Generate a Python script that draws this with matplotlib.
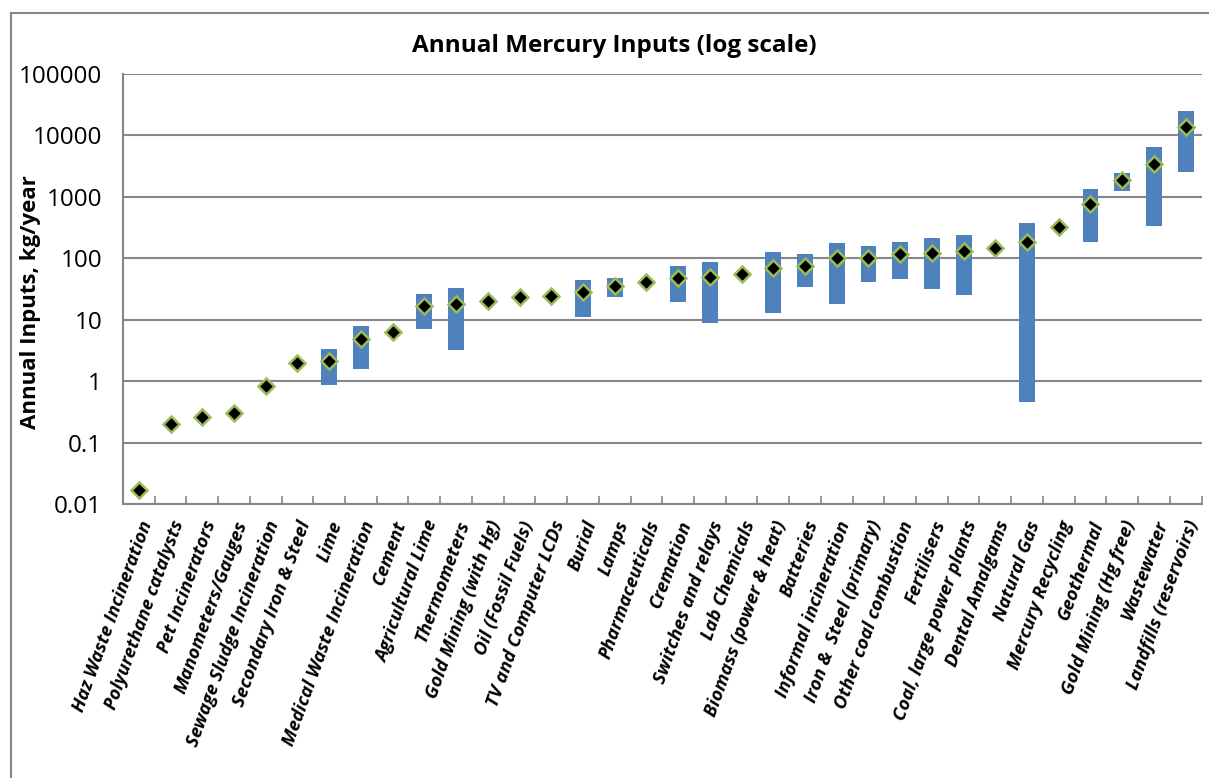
import numpy as np
import matplotlib.pyplot as plt
import matplotlib.transforms as mtransforms
from matplotlib.lines import Line2D

categories = [
    "Haz Waste Incineration", "Polyurethane catalysts", "Pet Incinerators",
    "Manometers/Gauges", "Sewage Sludge Incineration", "Secondary Iron & Steel",
    "Lime", "Medical Waste Incineration", "Cement", "Agricultural Lime",
    "Thermometers", "Gold Mining (with Hg)", "Oil (Fossil Fuels)",
    "TV and Computer LCDs", "Burial", "Lamps", "Pharmaceuticals", "Cremation",
    "Switches and relays", "Lab Chemicals", "Biomass (power & heat)", "Batteries",
    "Informal incineration", "Iron &  Steel (primary)", "Other coal combustion",
    "Fertilisers", "Coal, large power plants", "Dental Amalgams", "Natural Gas",
    "Mercury Recycling", "Geothermal", "Gold Mining (Hg free)", "Wastewater",
    "Landfills (reservoirs)",
]

# best estimate (diamonds)
best = [0.017, 0.20, 0.26, 0.30, 0.83, 2.0, 2.14, 4.9, 6.4, 17.0,
        18.1, 20.3, 23.6, 24.5, 28, 36, 40.7, 48,
        49, 55, 70, 76,
        100, 100, 118, 122, 133, 149, 187,
        319, 775, 1905, 3470, 13840]

# low / high of range (blue bars), None where there is no range
low = [None, None, None, None, None, None, 0.86, 1.61, None, 7.1,
       3.27, None, None, None, 11.1, 23.8, None, 19.3,
       8.9, None, 12.8, 33.8,
       18.1, 40.7, 45.6, 31.8, 25.4, None, 0.468,
       None, 185, 1247, 336, 2500]
high = [None, None, None, None, None, None, 3.36, 7.95, None, 26.7,
        32.5, None, None, None, 44.5, 48, None, 76,
        88, None, 127, 119,
        180, 161, 187, 215, 243, None, 371,
        None, 1344, 2474, 6550, 24900]

plt.rcParams['font.family'] = ['Open Sans', 'DejaVu Sans']

fig = plt.figure(figsize=(12.09, 7.78), dpi=100)
ax = fig.add_axes([123 / 1209, 1 - 504.3 / 778, (1201.5 - 123) / 1209, (504.3 - 74) / 778])

x = np.arange(len(categories))
for i in range(len(categories)):
    if low[i] is not None:
        ax.bar(x[i], high[i] - low[i], bottom=low[i], width=0.5,
               color='#4F81BD', zorder=2)

ax.plot(x, best, linestyle='none', marker='D', markersize=8.5,
        markerfacecolor='black', markeredgecolor='#9BBB59',
        markeredgewidth=1.8, zorder=3)

ax.set_yscale('log')
ax.set_ylim(0.01, 100000)
ax.set_xlim(-0.5, len(categories) - 0.5)
ax.set_yticks([0.01, 0.1, 1, 10, 100, 1000, 10000, 100000])
ax.set_yticklabels(['0.01', '0.1', '1', '10', '100', '1000', '10000', '100000'])
ax.yaxis.set_minor_locator(plt.NullLocator())
ax.grid(axis='y', color='#868686', linewidth=1.5, zorder=0)
ax.set_axisbelow(True)

ax.set_xticks(x)
ax.set_xticklabels(categories, rotation=70, ha='right', va='top',
                   rotation_mode='anchor', fontsize=13.3,
                   fontweight='bold', fontstyle='italic')
shift = mtransforms.ScaledTranslation(-5 / 100, 0, fig.dpi_scale_trans)
for lbl in ax.get_xticklabels():
    lbl.set_transform(lbl.get_transform() + shift)
ax.set_xticks(np.arange(len(categories) + 1) - 0.5, minor=True)
ax.tick_params(axis='x', which='major', length=0, pad=10)
ax.tick_params(axis='x', which='minor', direction='in', length=6,
               width=1.2, color='#868686')
ax.tick_params(axis='y', length=0, labelsize=17.5, pad=15)

for s in ['top', 'right']:
    ax.spines[s].set_visible(False)
for s in ['left', 'bottom']:
    ax.spines[s].set_color('#868686')
    ax.spines[s].set_linewidth(1.5)

ax.set_ylabel("Annual Inputs, kg/year", fontsize=16, fontweight='bold')
ax.yaxis.set_label_coords(-82 / 1078.5, 0.47)

fig.text(614 / 1209, 1 - 46 / 778, "Annual Mercury Inputs (log scale)",
         ha='center', va='center', fontsize=17.5, fontweight='bold')

# chart area border (left and top visible)
fig.add_artist(Line2D([11 / 1209, 11 / 1209], [0, 1 - 13 / 778],
                      transform=fig.transFigure, color='#868686', linewidth=1.5))
fig.add_artist(Line2D([11 / 1209, 1], [1 - 13 / 778, 1 - 13 / 778],
                      transform=fig.transFigure, color='#868686', linewidth=1.5))

fig.savefig("out.png", dpi=100)
